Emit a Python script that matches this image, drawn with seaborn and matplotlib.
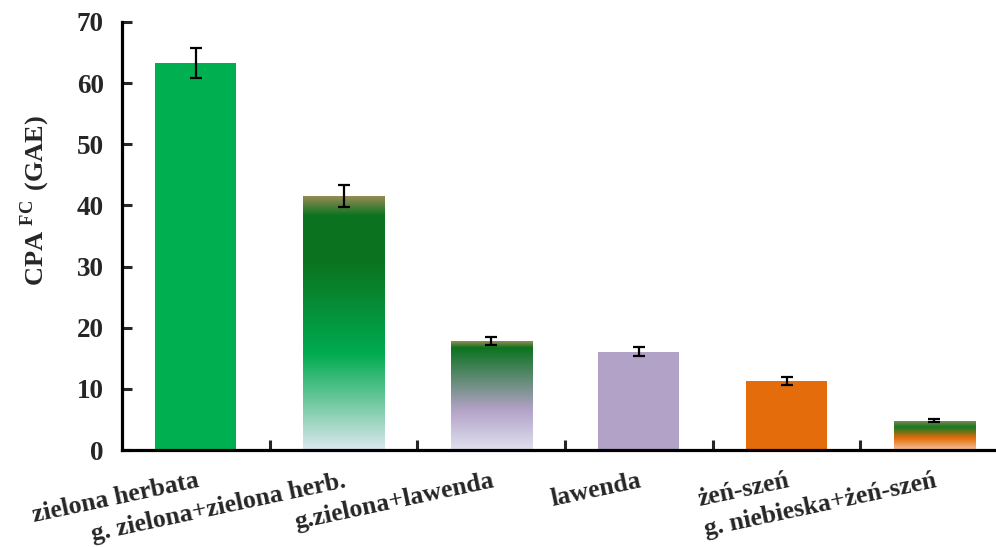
import numpy as np
import matplotlib
matplotlib.use("Agg")
import matplotlib.pyplot as plt
from matplotlib.colors import LinearSegmentedColormap
import seaborn as sns

# Data
categories = [
    "zielona herbata",
    "g. zielona+zielona herb.",
    "g.zielona+lawenda",
    "lawenda",
    "żeń-szeń",
    "g. niebieska+żeń-szeń",
]
values = [63.3, 41.5, 17.8, 16.1, 11.3, 4.8]
errors = [2.4, 1.8, 0.7, 0.8, 0.6, 0.25]
bar_colors = ["#00B050", "#00B050", "#B3A2C7", "#B3A2C7", "#E46C0A", "#E46C0A"]
y_ticks = [0, 10, 20, 30, 40, 50, 60, 70]

# Blend fills for the mixture bars: (fraction of bar height from bottom, colour)
gradient_stops = {
    1: [(0.0, "#DCE7EF"), (0.38, "#00AB4F"), (0.74, "#0B731F"),
        (0.925, "#0B731F"), (1.0, "#948A54")],
    2: [(0.0, "#E0E0F0"), (0.37, "#B3A2C7"), (0.94, "#0B731F"),
        (1.0, "#948A54")],
    5: [(0.0, "#F3C3A0"), (0.40, "#E46C0A"), (0.77, "#137A22"),
        (1.0, "#948A54")],
}

sns.set_style("ticks")
plt.rcParams["font.family"] = ["Liberation Serif", "DejaVu Serif"]
plt.rcParams["font.weight"] = "bold"
plt.rcParams["mathtext.fontset"] = "custom"
plt.rcParams["mathtext.rm"] = "Liberation Serif"
plt.rcParams["mathtext.bf"] = "Liberation Serif:bold"

fig = plt.figure(figsize=(9.96, 5.47), dpi=100)
ax = fig.add_axes([0.1225, 0.1773, 0.8896, 0.7825])

sns.barplot(x=categories, y=values, hue=categories, palette=bar_colors,
            legend=False, errorbar=None, width=0.55, saturation=1.0,
            linewidth=0, ax=ax)

bars = ax.patches[:len(values)]
for idx, stops in gradient_stops.items():
    patch = bars[idx]
    x0 = patch.get_x()
    w = patch.get_width()
    h = patch.get_height()
    cmap = LinearSegmentedColormap.from_list(f"blend{idx}", stops)
    grad = np.linspace(0, 1, 256).reshape(-1, 1)
    im = ax.imshow(grad, cmap=cmap, origin="lower", aspect="auto",
                   extent=[x0, x0 + w, 0, h], zorder=patch.get_zorder(),
                   interpolation="bilinear")
    im.set_clip_path(patch)
    patch.set_facecolor("none")

ax.errorbar(np.arange(len(values)), values, yerr=errors, fmt="none",
            ecolor="black", elinewidth=1.6, capsize=4.5, capthick=1.6,
            zorder=6)

ax.set_xlim(-0.5, len(values) - 0.5)
ax.set_ylim(0, 70)
ax.set_yticks(y_ticks)
ax.set_yticklabels([str(t) for t in y_ticks])

ax.set_xticks(np.arange(len(values)))
ax.set_xticklabels(categories)
ax.set_xticks(np.arange(len(values) - 1) + 0.5, minor=True)
ax.tick_params(axis="x", which="major", length=0, labelsize=18.5, pad=14)
ax.tick_params(axis="x", which="minor", direction="in", length=7, width=2.2)
ax.tick_params(axis="y", direction="in", length=7, width=2.2,
               labelsize=19.5, pad=13)
for lab in ax.get_xticklabels():
    lab.set_rotation(12)
    lab.set_ha("right")
    lab.set_rotation_mode("anchor")
    lab.set_fontweight("bold")
for lab in ax.get_yticklabels():
    lab.set_fontweight("bold")

for side in ["top", "right"]:
    ax.spines[side].set_visible(False)
for side in ["left", "bottom"]:
    ax.spines[side].set_linewidth(2.3)
    ax.spines[side].set_color("black")

ax.set_xlabel("")
ax.set_ylabel("")
fig.text(0.035, 0.633, r"$\mathbf{CPA}^{\mathbf{\ FC}}\mathbf{\ (GAE)}$",
         rotation=90, ha="center", va="center", fontsize=19)

fig.savefig("out.png", dpi=100)
